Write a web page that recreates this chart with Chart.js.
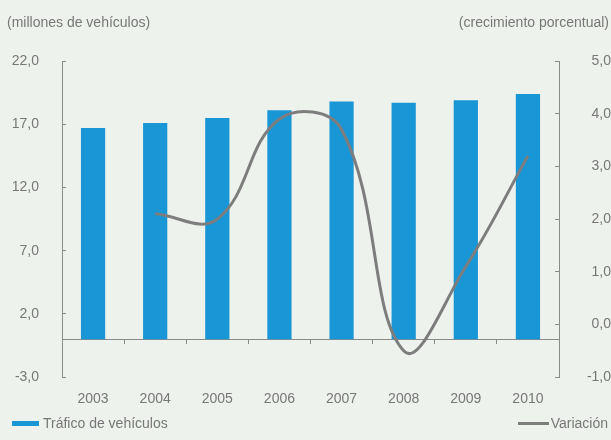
<!DOCTYPE html>
<html lang="es">
<head>
<meta charset="UTF-8">
<title>Tráfico de vehículos</title>
<script src="https://cdn.jsdelivr.net/npm/chart.js@4.4.0/dist/chart.umd.min.js"></script>
<style>
    html, body { margin: 0; padding: 0; background: #eef2ed; }
    body { font-family: "Liberation Sans", Arial, sans-serif; color: #777; font-size: 14px; }
    #wrap { position: relative; width: 611px; height: 440px; overflow: hidden; }
    #chart { position: absolute; left: 0; top: 0; }
    .unit { position: absolute; top: 14px; line-height: 16px; white-space: nowrap; }
    #unitLeft { left: 7px; }
    #unitRight { right: 2px; }
    .legend { position: absolute; top: 415px; line-height: 16px; white-space: nowrap; display: flex; align-items: center; }
    #legBars { left: 12px; }
    #legLine { right: 3px; }
    .swatch { display: inline-block; width: 27px; height: 5px; background: #1896d6; margin-right: 4px; }
    .stroke { display: inline-block; width: 31px; height: 3px; background: #7d7d7d; margin-right: 2px; }
</style>
</head>
<body>
<div id="wrap">
    <canvas id="chart" width="611" height="440"></canvas>
    <div class="unit" id="unitLeft">(millones de vehículos)</div>
    <div class="unit" id="unitRight">(crecimiento porcentual)</div>
    <div class="legend" id="legBars"><span class="swatch"></span>Tráfico de vehículos</div>
    <div class="legend" id="legLine"><span class="stroke"></span>Variación</div>
</div>
<script>
    // años
    var years = ['2003', '2004', '2005', '2006', '2007', '2008', '2009', '2010'];
    // tráfico de vehículos (millones)
    var traffic = [16.7, 17.1, 17.5, 18.1, 18.8, 18.7, 18.9, 19.4];
    // variación anual (%)
    var growth = [null, 2.1, 2.0, 3.9, 3.7, -0.5, 1.1, 3.2];

    var axisColor = '#8a8a8a';
    var textColor = '#777';
    var fmt = function (v) { return Number(v).toFixed(1).replace('.', ','); };

    Chart.defaults.font.family = '"Liberation Sans", Arial, sans-serif';
    Chart.defaults.font.size = 14;
    Chart.defaults.color = textColor;

    new Chart(document.getElementById('chart'), {
        type: 'bar',
        data: {
            labels: years,
            datasets: [{
                type: 'line',
                label: 'Variación',
                data: growth,
                yAxisID: 'y1',
                borderColor: '#7d7d7d',
                borderWidth: 3,
                pointRadius: 0,
                tension: 0.4,
                fill: false,
                order: 0
            }, {
                label: 'Tráfico de vehículos',
                data: traffic,
                yAxisID: 'y',
                backgroundColor: '#1896d6',
                categoryPercentage: 1,
                barPercentage: 0.39,
                order: 1
            }]
        },
        options: {
            responsive: false,
            animation: false,
            layout: { padding: { top: 61, bottom: 18, left: 0, right: 0 } },
            plugins: { legend: { display: false }, tooltip: { enabled: false } },
            scales: {
                x: {
                    offset: true,
                    border: { display: false },
                    grid: { display: false, drawTicks: false },
                    ticks: { padding: 14 }
                },
                // zero line with small marks between the years
                x2: {
                    type: 'category',
                    position: { y: 0 },
                    offset: true,
                    border: { color: axisColor, width: 1 },
                    grid: { offset: true, drawOnChartArea: false, tickLength: 4, color: axisColor },
                    ticks: { display: false }
                },
                y: {
                    position: 'left',
                    min: -3,
                    max: 22,
                    ticks: { stepSize: 5, padding: 27, callback: fmt },
                    border: { color: axisColor, width: 1 },
                    grid: { drawOnChartArea: false, tickLength: -4, color: axisColor },
                    afterFit: function (s) { s.width = 62; }
                },
                y1: {
                    position: 'right',
                    min: -1,
                    max: 5,
                    ticks: { stepSize: 1, padding: 28, crossAlign: 'far', callback: fmt },
                    border: { color: axisColor, width: 1 },
                    grid: { drawOnChartArea: false, tickLength: -4, color: axisColor },
                    afterFit: function (s) { s.width = 52; }
                }
            }
        }
    });
</script>
</body>
</html>
